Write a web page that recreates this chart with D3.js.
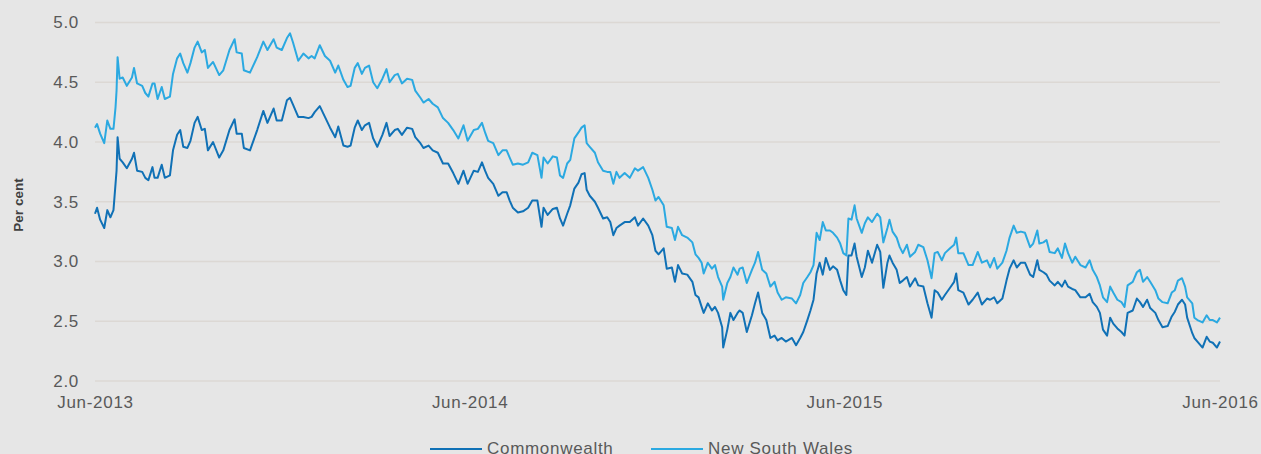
<!DOCTYPE html>
<html>
<head>
<meta charset="utf-8">
<script src="https://cdn.jsdelivr.net/npm/d3@7"></script>
<style>
  body { margin: 0; background: #e6e6e6; }
  svg { display: block; font-family: "Liberation Sans", Arial, sans-serif; }
</style>
</head>
<body>
<div id="chart"></div>
<script>
// dates of the readings, one row per month
var dates = [
  "2013-06-01","2013-06-03","2013-06-06","2013-06-10","2013-06-13","2013-06-16","2013-06-19","2013-06-21","2013-06-22","2013-06-23","2013-06-25","2013-06-28",
  "2013-07-02","2013-07-07","2013-07-09","2013-07-12","2013-07-17","2013-07-20","2013-07-23","2013-07-27","2013-07-29",
  "2013-08-01","2013-08-05","2013-08-08","2013-08-13","2013-08-16","2013-08-20","2013-08-23","2013-08-26","2013-08-30",
  "2013-09-02","2013-09-06","2013-09-09","2013-09-13","2013-09-16","2013-09-19","2013-09-24","2013-09-30",
  "2013-10-04","2013-10-10","2013-10-15","2013-10-17","2013-10-22","2013-10-24","2013-10-30",
  "2013-11-06","2013-11-12","2013-11-16","2013-11-22","2013-11-25","2013-11-30",
  "2013-12-05","2013-12-08","2013-12-11","2013-12-16","2013-12-21","2013-12-26","2013-12-29",
  "2014-01-01","2014-01-06","2014-01-11","2014-01-16","2014-01-21","2014-01-24","2014-01-29",
  "2014-02-02","2014-02-05","2014-02-09","2014-02-12","2014-02-16","2014-02-19","2014-02-23","2014-02-27",
  "2014-03-03","2014-03-08","2014-03-12","2014-03-15","2014-03-20","2014-03-23","2014-03-27",
  "2014-04-01","2014-04-06","2014-04-09","2014-04-14","2014-04-17","2014-04-22","2014-04-26",
  "2014-05-01","2014-05-06","2014-05-11","2014-05-16","2014-05-21","2014-05-26","2014-05-30",
  "2014-06-05","2014-06-09","2014-06-13","2014-06-16","2014-06-19","2014-06-24","2014-06-29",
  "2014-07-03","2014-07-07","2014-07-10","2014-07-13","2014-07-18","2014-07-23","2014-07-28",
  "2014-08-01","2014-08-06","2014-08-10","2014-08-12","2014-08-16","2014-08-21","2014-08-25","2014-08-28","2014-08-31",
  "2014-09-04","2014-09-07","2014-09-11","2014-09-15","2014-09-18","2014-09-21","2014-09-23","2014-09-26",
  "2014-10-01","2014-10-04","2014-10-09","2014-10-13","2014-10-16","2014-10-19","2014-10-22","2014-10-25","2014-10-30",
  "2014-11-04","2014-11-09","2014-11-12","2014-11-17","2014-11-22","2014-11-26","2014-11-29",
  "2014-12-02","2014-12-07","2014-12-10","2014-12-15","2014-12-18","2014-12-21","2014-12-25","2014-12-30",
  "2015-01-04","2015-01-07","2015-01-10","2015-01-13","2015-01-15","2015-01-19","2015-01-23","2015-01-26","2015-01-29",
  "2015-02-02","2015-02-03","2015-02-07","2015-02-10","2015-02-13","2015-02-17","2015-02-19","2015-02-22","2015-02-26",
  "2015-03-03","2015-03-06","2015-03-09","2015-03-13","2015-03-17","2015-03-21","2015-03-25","2015-03-28",
  "2015-04-01","2015-04-05","2015-04-11","2015-04-15","2015-04-19","2015-04-22","2015-04-26","2015-04-29",
  "2015-05-02","2015-05-05","2015-05-08","2015-05-11","2015-05-14","2015-05-18","2015-05-21","2015-05-25","2015-05-28","2015-05-31",
  "2015-06-03","2015-06-05","2015-06-08","2015-06-11","2015-06-13","2015-06-18","2015-06-21","2015-06-24","2015-06-28",
  "2015-07-03","2015-07-06","2015-07-09","2015-07-13","2015-07-15","2015-07-18","2015-07-22","2015-07-25","2015-07-28",
  "2015-08-01","2015-08-04","2015-08-09","2015-08-12","2015-08-17","2015-08-21","2015-08-25","2015-08-28","2015-08-31",
  "2015-09-04","2015-09-07","2015-09-12","2015-09-16","2015-09-18","2015-09-20","2015-09-25","2015-09-30",
  "2015-10-04","2015-10-09","2015-10-13","2015-10-18","2015-10-21","2015-10-25","2015-10-28",
  "2015-11-02","2015-11-06","2015-11-09","2015-11-13","2015-11-16","2015-11-20","2015-11-24","2015-11-29",
  "2015-12-02","2015-12-06","2015-12-08","2015-12-12","2015-12-15","2015-12-18","2015-12-23","2015-12-26","2015-12-30",
  "2016-01-02","2016-01-05","2016-01-09","2016-01-12","2016-01-17","2016-01-22","2016-01-26","2016-01-29",
  "2016-02-02","2016-02-05","2016-02-08","2016-02-12","2016-02-15","2016-02-18","2016-02-22","2016-02-26","2016-02-29",
  "2016-03-03","2016-03-08","2016-03-12","2016-03-15","2016-03-18","2016-03-22","2016-03-25","2016-03-30",
  "2016-04-02","2016-04-06","2016-04-11","2016-04-15","2016-04-18","2016-04-21","2016-04-25","2016-04-28","2016-04-30",
  "2016-05-05","2016-05-07","2016-05-10","2016-05-15","2016-05-19","2016-05-22","2016-05-25","2016-05-29","2016-06-01"
];

// per cent, same rows as dates
var commonwealth = [
  3.40,3.45,3.35,3.28,3.43,3.37,3.43,3.65,3.76,4.04,3.86,3.83,
  3.78,3.86,3.91,3.76,3.75,3.70,3.68,3.79,3.70,
  3.70,3.81,3.70,3.72,3.93,4.06,4.10,3.96,3.95,
  4.01,4.16,4.21,4.10,4.11,3.93,4.00,3.87,
  3.93,4.10,4.19,4.07,4.07,3.95,3.93,
  4.10,4.26,4.16,4.28,4.18,4.18,
  4.35,4.37,4.31,4.21,4.21,4.20,4.21,
  4.25,4.30,4.21,4.12,4.04,4.13,3.97,
  3.96,3.97,4.12,4.18,4.10,4.14,4.16,4.03,
  3.96,4.06,4.16,4.05,4.10,4.11,4.06,
  4.12,4.11,4.04,3.99,3.95,3.97,3.93,
  3.91,3.82,3.82,3.74,3.65,3.76,3.65,
  3.76,3.75,3.83,3.76,3.70,3.65,3.55,
  3.58,3.58,3.51,3.45,3.41,3.42,3.45,
  3.51,3.51,3.29,3.45,3.39,3.44,3.45,3.36,3.30,
  3.40,3.47,3.61,3.66,3.73,3.74,3.60,3.55,
  3.50,3.45,3.36,3.37,3.33,3.22,3.28,3.30,3.33,
  3.33,3.37,3.30,3.36,3.30,3.22,3.09,
  3.06,3.11,2.94,2.95,2.83,2.97,2.90,2.89,
  2.83,2.72,2.70,2.62,2.57,2.65,2.59,2.62,2.57,
  2.45,2.28,2.43,2.57,2.51,2.57,2.59,2.57,2.41,
  2.55,2.65,2.74,2.57,2.51,2.36,2.38,2.34,
  2.36,2.33,2.36,2.30,2.36,2.41,2.51,2.59,
  2.68,2.90,2.99,2.89,3.03,2.93,2.96,2.93,2.84,2.76,
  2.72,3.05,3.05,3.15,3.04,2.87,2.95,3.09,2.99,
  3.14,3.08,2.78,2.99,3.05,2.99,2.93,2.82,2.84,
  2.87,2.79,2.86,2.80,2.79,2.65,2.53,2.76,2.74,
  2.68,2.72,2.78,2.83,2.90,2.76,2.74,2.64,
  2.68,2.74,2.64,2.69,2.68,2.70,2.65,
  2.69,2.84,2.94,3.01,2.95,2.99,2.99,2.89,
  2.87,3.01,2.93,2.91,2.89,2.84,2.80,2.83,2.79,
  2.84,2.79,2.77,2.76,2.70,2.70,2.73,2.66,
  2.62,2.57,2.43,2.38,2.53,2.48,2.44,2.41,2.38,
  2.57,2.59,2.69,2.66,2.62,2.68,2.61,2.57,
  2.51,2.45,2.46,2.54,2.58,2.64,2.68,2.64,2.53,
  2.40,2.36,2.33,2.28,2.37,2.33,2.32,2.28,2.33
];

var newSouthWales = [
  4.12,4.15,4.07,3.99,4.18,4.11,4.11,4.29,4.43,4.71,4.53,4.54,
  4.47,4.54,4.62,4.49,4.47,4.41,4.38,4.49,4.49,
  4.36,4.46,4.36,4.38,4.57,4.70,4.74,4.66,4.58,
  4.66,4.79,4.84,4.75,4.77,4.62,4.67,4.56,
  4.60,4.77,4.86,4.75,4.74,4.60,4.58,
  4.71,4.84,4.77,4.86,4.79,4.77,
  4.87,4.91,4.83,4.68,4.74,4.70,4.72,
  4.70,4.81,4.72,4.68,4.58,4.64,4.52,
  4.46,4.47,4.62,4.66,4.57,4.62,4.64,4.50,
  4.45,4.53,4.61,4.50,4.56,4.57,4.49,
  4.53,4.52,4.43,4.37,4.33,4.36,4.32,
  4.29,4.20,4.16,4.10,4.03,4.14,4.01,
  4.10,4.11,4.16,4.08,4.01,3.99,3.89,
  3.93,3.93,3.87,3.81,3.82,3.81,3.83,
  3.91,3.89,3.70,3.87,3.82,3.88,3.87,3.72,3.70,
  3.82,3.85,4.03,4.08,4.12,4.14,3.99,3.96,
  3.91,3.83,3.76,3.75,3.75,3.65,3.75,3.70,3.74,
  3.70,3.78,3.76,3.79,3.70,3.60,3.51,
  3.54,3.47,3.29,3.28,3.18,3.29,3.22,3.20,
  3.16,3.06,3.03,2.99,2.90,2.99,2.94,2.97,2.87,
  2.79,2.68,2.82,2.87,2.95,2.89,2.94,2.95,2.82,
  2.93,2.99,3.08,2.93,2.90,2.79,2.83,2.74,
  2.68,2.70,2.69,2.65,2.72,2.82,2.87,2.91,
  2.97,3.24,3.18,3.33,3.26,3.26,3.24,3.20,3.15,3.07,
  3.05,3.36,3.35,3.47,3.36,3.24,3.32,3.37,3.33,
  3.40,3.37,3.16,3.28,3.35,3.25,3.20,3.12,3.07,
  3.14,3.04,3.08,3.14,3.12,3.01,2.86,3.07,3.08,
  3.01,3.07,3.11,3.14,3.20,3.07,3.07,2.97,
  2.97,3.08,2.99,3.01,2.95,3.03,2.94,
  2.99,3.09,3.20,3.30,3.24,3.25,3.24,3.12,
  3.15,3.26,3.15,3.16,3.18,3.08,3.07,3.11,3.03,
  3.15,3.07,2.99,3.04,2.97,2.95,3.01,2.93,
  2.87,2.80,2.70,2.66,2.79,2.74,2.68,2.66,2.62,
  2.80,2.83,2.91,2.93,2.83,2.87,2.83,2.76,
  2.69,2.66,2.65,2.74,2.76,2.84,2.86,2.79,2.70,
  2.65,2.53,2.51,2.49,2.55,2.51,2.51,2.49,2.53
];

var yTicks = [2.0, 2.5, 3.0, 3.5, 4.0, 4.5, 5.0];
var xTicks = ["2013-06-01", "2014-06-01", "2015-06-01", "2016-06-01"];
var seriesNames = ["Commonwealth", "New South Wales"];
var seriesColors = ["#1071b6", "#2ba9e1"];

var width = 1261,
    height = 454;
var plotLeft = 95, plotRight = 1220, plotTop = 22.5, plotBottom = 381;

var parse = d3.timeParse("%Y-%m-%d");

var svg = d3.select("#chart")
  .append("svg")
  .attr("width", width)
  .attr("height", height);

svg.append("rect").attr("width", width).attr("height", height).attr("fill", "#e6e6e6");

var x = d3.scaleTime()
  .domain([parse(xTicks[0]), parse(xTicks[xTicks.length - 1])])
  .range([plotLeft, plotRight]);

var y = d3.scaleLinear()
  .domain([2, 5])
  .range([plotBottom, plotTop]);

// gridlines
svg.append("g")
  .selectAll("line")
  .data(yTicks)
  .enter()
  .append("line")
  .attr("x1", plotLeft)
  .attr("x2", plotRight)
  .attr("y1", d => y(d))
  .attr("y2", d => y(d))
  .attr("stroke", "#dcd8d4")
  .attr("stroke-width", 1.5);

var yAxis = svg.append("g")
  .attr("transform", "translate(" + plotLeft + ",0)")
  .call(d3.axisLeft(y).tickValues(yTicks).tickFormat(d3.format(".1f")).tickSize(0).tickPadding(16));

var xAxis = svg.append("g")
  .attr("transform", "translate(0," + plotBottom + ")")
  .call(d3.axisBottom(x).tickValues(xTicks.map(parse)).tickFormat(d3.timeFormat("%b-%Y")).tickSize(0).tickPadding(15));

[yAxis, xAxis].forEach(function (ax) {
  ax.select(".domain").remove();
  ax.selectAll("text")
    .attr("fill", "#595959")
    .style("font-family", "'Liberation Sans', Arial, sans-serif")
    .style("font-size", "17px")
    .style("letter-spacing", "0.7px");
});

// y title
svg.append("text")
  .attr("transform", "translate(23,205) rotate(-90)")
  .attr("text-anchor", "middle")
  .attr("fill", "#404040")
  .style("font-size", "13.5px")
  .style("font-weight", "bold")
  .text("Per cent");

var series = [commonwealth, newSouthWales];

var line = d3.line()
  .x((d, i) => x(parse(dates[i])))
  .y(d => y(d));

svg.append("g")
  .selectAll("path")
  .data(series)
  .enter()
  .append("path")
  .attr("d", d => line(d))
  .attr("fill", "none")
  .attr("stroke", (d, i) => seriesColors[i])
  .attr("stroke-width", 2)
  .attr("stroke-linejoin", "round");

// legend
var legendX = [430, 651];
var legend = svg.append("g")
  .selectAll("g")
  .data(seriesNames)
  .enter()
  .append("g")
  .attr("transform", (d, i) => "translate(" + legendX[i] + ",449)");

legend.append("line")
  .attr("x1", 0)
  .attr("x2", 52)
  .attr("stroke", (d, i) => seriesColors[i])
  .attr("stroke-width", 2);

legend.append("text")
  .attr("x", 57)
  .attr("y", 5)
  .attr("fill", "#595959")
  .style("font-size", "17px")
  .style("letter-spacing", "0.7px")
  .text(d => d);
</script>
</body>
</html>
